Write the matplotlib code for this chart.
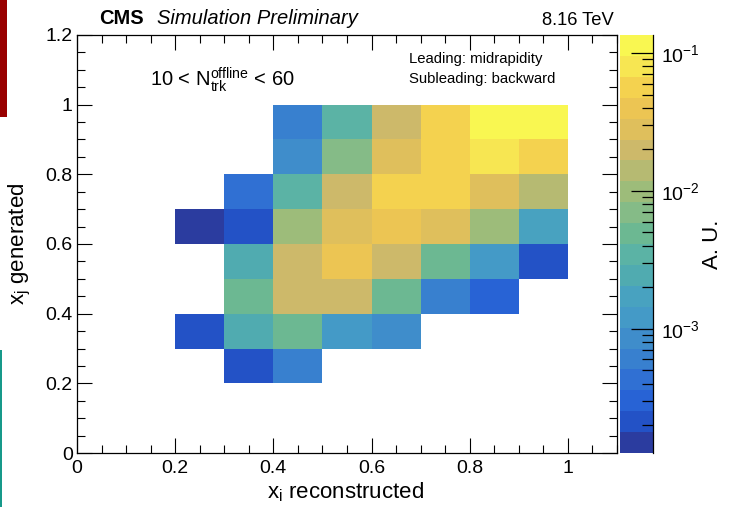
import numpy as np
import matplotlib
matplotlib.use("Agg")
import matplotlib.pyplot as plt
from matplotlib.colors import ListedColormap, LogNorm
from matplotlib.patches import Rectangle
from matplotlib.ticker import FixedLocator, LogLocator, NullFormatter, LogFormatterSciNotation

plt.rcParams["font.family"] = ["Liberation Sans", "DejaVu Sans"]
plt.rcParams["mathtext.fontset"] = "custom"
plt.rcParams["mathtext.rm"] = "Liberation Sans"
plt.rcParams["mathtext.it"] = "Liberation Sans:italic"
plt.rcParams["mathtext.bf"] = "Liberation Sans:bold"

# ---------------- data ----------------
x_edges = [0.0, 0.1, 0.2, 0.3, 0.4, 0.5, 0.6, 0.7, 0.8, 0.9, 1.0, 1.1]
y_edges = [0.0, 0.1, 0.2, 0.3, 0.4, 0.5, 0.6, 0.7, 0.8, 0.9, 1.0, 1.1, 1.2]
nan = np.nan
# one list per x_j generated bin, entries per x_i reconstructed bin (0-0.1 ... 1.0-1.1)
row_00 = [nan] * 11
row_01 = [nan] * 11
row_02 = [nan, nan, nan, 2.1e-4, 6.1e-4, nan, nan, nan, nan, nan, nan]
row_03 = [nan, nan, 2.1e-4, 2.4e-3, 4.9e-3, 1.2e-3, 8.6e-4, nan, nan, nan, nan]
row_04 = [nan, nan, nan, 4.9e-3, 2.0e-2, 2.0e-2, 4.9e-3, 6.1e-4, 3.0e-4, nan, nan]
row_05 = [nan, nan, nan, 2.4e-3, 2.0e-2, 4.0e-2, 2.0e-2, 4.9e-3, 1.2e-3, 2.1e-4, nan]
row_06 = [nan, nan, 1.5e-4, 2.1e-4, 9.9e-3, 2.8e-2, 4.0e-2, 2.8e-2, 9.9e-3, 1.7e-3, nan]
row_07 = [nan, nan, nan, 4.3e-4, 3.5e-3, 2.0e-2, 5.6e-2, 5.6e-2, 2.8e-2, 1.4e-2, nan]
row_08 = [nan, nan, nan, nan, 8.6e-4, 7.0e-3, 2.8e-2, 5.6e-2, 8.0e-2, 5.6e-2, nan]
row_09 = [nan, nan, nan, nan, 6.1e-4, 3.5e-3, 2.0e-2, 5.6e-2, 0.113, 0.113, nan]
row_10 = [nan] * 11
row_11 = [nan] * 11

z_min, z_max = 1.26e-4, 0.135

x_ticks = [0.0, 0.2, 0.4, 0.6, 0.8, 1.0]
x_tick_labels = ["0", "0.2", "0.4", "0.6", "0.8", "1"]
y_ticks = [0.0, 0.2, 0.4, 0.6, 0.8, 1.0, 1.2]
y_tick_labels = ["0", "0.2", "0.4", "0.6", "0.8", "1", "1.2"]

palette = ["#2b3c9f", "#2352c6", "#2863d5", "#3070d3", "#3880cf", "#3f8dcb",
           "#449ac7", "#48a2c0", "#50abb0", "#5bb3a5", "#6cb892", "#85bb87",
           "#9dbc7a", "#b6ba72", "#cdb96a", "#dfbf5c", "#ecc553", "#f4d24f",
           "#f7e652", "#f9f751"]

Z = np.ma.masked_invalid(np.array([row_00, row_01, row_02, row_03, row_04, row_05,
                                   row_06, row_07, row_08, row_09, row_10, row_11]))

# ---------------- figure ----------------
W, H = 735, 507
fig = plt.figure(figsize=(W / 100, H / 100), dpi=100)

def fx(px):
    return px / W

def fy(py):
    return 1 - py / H

ax = fig.add_axes([fx(77), fy(453), fx(617) - fx(77), fy(35) - fy(453)])
cax = fig.add_axes([fx(620), fy(453), fx(653) - fx(620), fy(35) - fy(453)])

cmap = ListedColormap(palette)
norm = LogNorm(vmin=z_min, vmax=z_max)
mesh = ax.pcolormesh(x_edges, y_edges, Z, cmap=cmap, norm=norm, antialiased=False,
                     edgecolors="none")
ax.set_xlim(0, 1.1)
ax.set_ylim(0, 1.2)

ax.xaxis.set_major_locator(FixedLocator(x_ticks))
ax.set_xticklabels(x_tick_labels)
ax.yaxis.set_major_locator(FixedLocator(y_ticks))
ax.set_yticklabels(y_tick_labels)
ax.xaxis.set_minor_locator(FixedLocator([i * 0.05 for i in range(23)]))
ax.yaxis.set_minor_locator(FixedLocator([i * 0.05 for i in range(25)]))
for s in ax.spines.values():
    s.set_linewidth(0.9)
ax.tick_params(which="both", direction="in", top=True, right=True, width=0.8,
               labelsize=14, colors="black")
ax.tick_params(which="major", length=11)
ax.tick_params(which="minor", length=5.5)
ax.tick_params(axis="x", which="major", pad=5)
ax.tick_params(axis="y", which="major", pad=3)

cb = fig.colorbar(mesh, cax=cax)
cb.outline.set_visible(False)
cax.yaxis.set_ticks_position("right")
cax.yaxis.set_major_locator(LogLocator(base=10))
cax.yaxis.set_major_formatter(LogFormatterSciNotation(base=10))
cax.yaxis.set_minor_locator(LogLocator(base=10, subs=[2, 3, 4, 5, 6, 7, 8, 9]))
cax.yaxis.set_minor_formatter(NullFormatter())
cax.tick_params(which="both", direction="in", width=0.9, labelsize=14, colors="black")
cax.tick_params(which="major", length=16, pad=6)
cax.tick_params(which="minor", length=8)
cax.plot([1, 1], [0, 1], transform=cax.transAxes, color="black", lw=0.9, clip_on=False)

# ---------------- texts ----------------
fig.text(fx(99), fy(24), "CMS", fontsize=14.5, fontweight="bold", ha="left", va="baseline")
fig.text(fx(157), fy(24), "Simulation Preliminary", fontsize=14.5, fontstyle="italic",
         ha="left", va="baseline")
fig.text(fx(614), fy(25), "8.16 TeV", fontsize=13.2, ha="right", va="baseline")
fig.text(fx(150), fy(86), r"10 < N$_{\mathrm{trk}}^{\mathrm{offline}}$ < 60", fontsize=14.5,
         ha="left", va="baseline")
fig.text(fx(409), fy(63), "Leading: midrapidity", fontsize=10.7, ha="left", va="baseline")
fig.text(fx(409), fy(83), "Subleading: backward", fontsize=10.7, ha="left", va="baseline")
fig.text(fx(345), fy(492), r"x$_{\mathrm{i}}$ reconstructed", fontsize=16, ha="center",
         va="center")
fig.text(fx(20), fy(244), r"x$_{\mathrm{j}}$ generated", fontsize=16, ha="center",
         va="center", rotation=90)
fig.text(fx(712), fy(244), "A. U.", fontsize=16, ha="center", va="center", rotation=90)

# decorative slide edges seen in the reference crop
fig.patches.append(Rectangle((0, fy(117)), fx(7), 1 - fy(117), transform=fig.transFigure,
                             facecolor="#990000", edgecolor="none"))
fig.patches.append(Rectangle((0, 0), fx(2), fy(350), transform=fig.transFigure,
                             facecolor="#16998a", edgecolor="none"))

fig.savefig("out.png", dpi=100)
